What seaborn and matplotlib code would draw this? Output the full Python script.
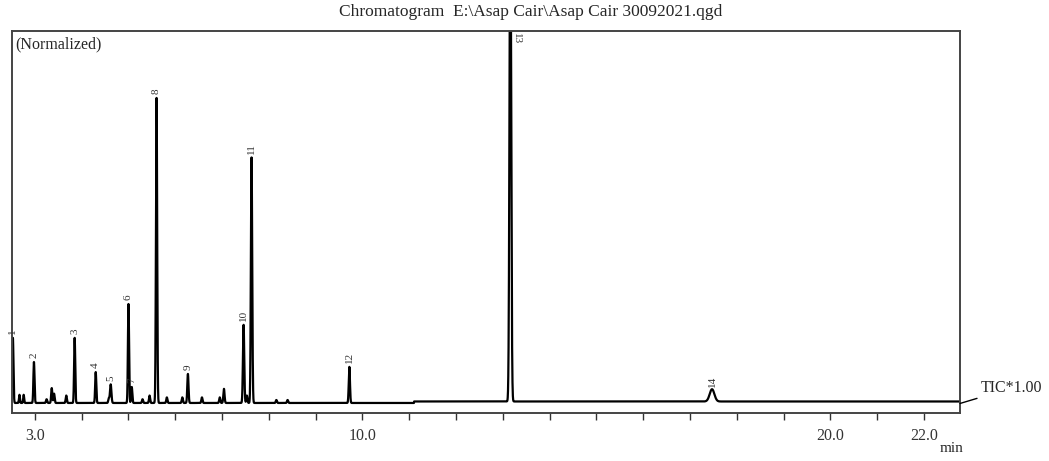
import numpy as np
import pandas as pd
import matplotlib
matplotlib.use("Agg")
import matplotlib.pyplot as plt
import seaborn as sns

# peaks (time in min, normalized height, width sigma in min)
peak_times = [2.53, 2.67, 2.76, 2.98, 3.25, 3.36, 3.41, 3.67, 3.85, 4.30, 4.58, 4.62,
              5.00, 5.07, 5.30, 5.45, 5.60, 5.82, 6.15, 6.27, 6.57, 6.95, 7.04, 7.46,
              7.53, 7.63, 8.16, 8.40, 9.72, 13.16, 17.47]
peak_heights = [17.5, 2.2, 2.2, 11.0, 1.0, 4.0, 2.5, 2.0, 17.5, 8.3, 1.2, 5.0,
                26.6, 4.3, 1.0, 2.0, 82.0, 1.5, 1.5, 7.8, 1.5, 1.5, 3.8, 21.0,
                2.0, 66.0, 0.8, 0.8, 9.7, 135.0, 3.3]
peak_sigma = [0.012, 0.01, 0.01, 0.012, 0.012, 0.012, 0.012, 0.012, 0.012, 0.012, 0.012, 0.015,
              0.012, 0.012, 0.012, 0.012, 0.013, 0.012, 0.012, 0.013, 0.012, 0.012, 0.013, 0.014,
              0.012, 0.014, 0.012, 0.012, 0.013, 0.018, 0.05]

label_names = ["1", "2", "3", "4", "5", "6", "7", "8", "9", "10", "11", "12", "13", "14"]
label_times = [2.53, 2.98, 3.85, 4.30, 4.62, 5.00, 5.07, 5.60, 6.27, 7.46, 7.63, 9.72, 13.16, 17.47]
label_heights = [17.5, 11.0, 17.5, 8.3, 5.0, 26.6, 4.3, 82.0, 7.8, 21.0, 66.0, 9.7, 135.0, 3.3]

tick_pos = list(range(3, 23))
tick_text = {3: "3.0", 10: "10.0", 20: "20.0", 22: "22.0"}

title = "Chromatogram  E:\\Asap Cair\\Asap Cair 30092021.qgd"

# build the trace from the peak list
t = np.arange(2.51, 22.78, 0.002)
sig = np.zeros_like(t)
for mu, h, s in zip(peak_times, peak_heights, peak_sigma):
    sig += h * np.exp(-0.5 * ((t - mu) / s) ** 2)
sig += np.where(t > 11.1, 0.4, 0.0)
df = pd.DataFrame({"time": t, "signal": sig})

sns.set_style("white")
plt.rcParams["font.family"] = ["Liberation Serif", "DejaVu Serif"]

fig = plt.figure(figsize=(10.49, 4.61), dpi=100)
ax = fig.add_axes([0.0114, 0.1041, 0.9038, 0.8287])

sns.lineplot(data=df, x="time", y="signal", ax=ax, color="black", linewidth=1.6)

ax.set_xlim(2.51, 22.77)
ax.set_ylim(-2.7, 100)
ax.set_xlabel("")
ax.set_ylabel("")
ax.set_yticks([])
ax.set_xticks(tick_pos)
ax.set_xticklabels([tick_text.get(p, "") for p in tick_pos], fontsize=11.5, color="#333333")
ax.tick_params(axis="x", direction="out", length=5, width=1, color="#333333", pad=6, bottom=True)
for sp in ax.spines.values():
    sp.set_color("#444444")
    sp.set_linewidth(1.4)

for name, x, h in zip(label_names, label_times, label_heights):
    if h > 100:
        ax.text(x + 0.14, 99.5, name, rotation=270, fontsize=8, ha="center", va="top", color="#333333")
    else:
        ax.text(x, h + 1.0, name, rotation=90, fontsize=8, ha="center", va="bottom", color="#333333")

ax.text(0.003, 0.985, "(Normalized)", transform=ax.transAxes, ha="left", va="top", fontsize=11.5)
fig.text(0.506, 0.975, title, ha="center", va="center", fontsize=12.5)
fig.text(0.896, 0.012, "min", ha="left", va="bottom", fontsize=11)

# TIC marker at right end of the trace
ax.annotate("TIC*1.00", xy=(1.0, 0.025), xycoords="axes fraction",
            xytext=(0.9345, 0.158), textcoords="figure fraction",
            fontsize=11.5, ha="left", va="center",
            arrowprops=dict(arrowstyle="-", color="black", lw=1, shrinkA=0, shrinkB=0))

fig.savefig("out.png", dpi=100)
